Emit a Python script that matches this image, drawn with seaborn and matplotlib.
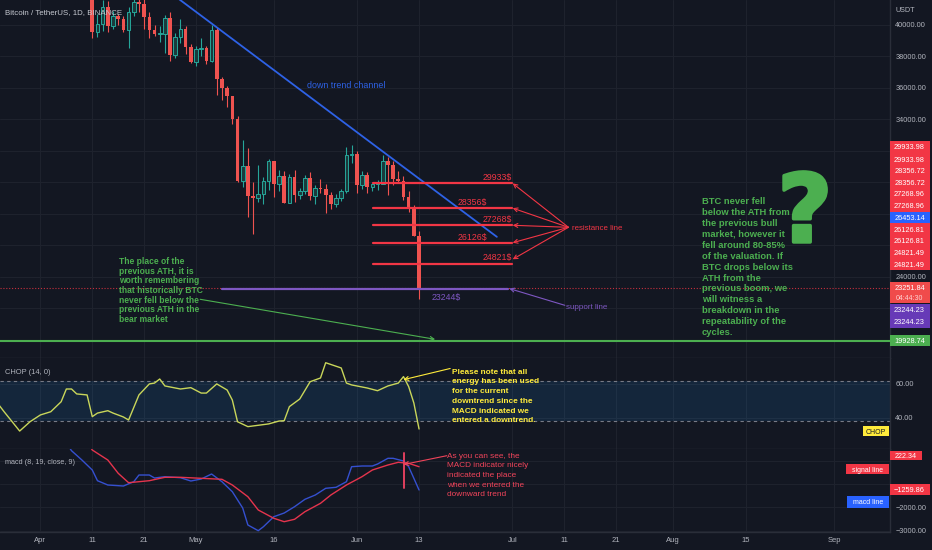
import numpy as np
import pandas as pd
import matplotlib
matplotlib.use("Agg")
import matplotlib.pyplot as plt
import matplotlib.dates as mdates
import matplotlib.patheffects as pe
from matplotlib.patches import Rectangle
from matplotlib.ticker import FuncFormatter
from matplotlib import font_manager as fm
import seaborn as sns

# ---------------- data ----------------
candle_start = "2022-04-11"
candle_open = [42158, 39530, 40074, 41147, 39942, 40551, 40378, 39678, 40801, 41493,
               41358, 40480, 39709, 39441, 39450, 40426, 38112, 39235, 39742, 38596,
               37630, 38468, 38525, 37729, 39690, 36552, 36013, 35472, 34039, 30077,
               31017, 29103, 29030, 29287, 30086, 31328, 29875, 30424, 28715, 30319,
               29201, 29445, 30293, 29110, 29655, 29543, 29202, 28620, 29020, 29445,
               31726, 31793, 29800, 30452, 29700, 29865, 29920, 31373, 31125, 30204,
               30110, 29092, 28424, 26574]
candle_high = [42414, 40699, 41561, 41500, 40870, 40709, 40595, 41116, 41760, 42199,
               42976, 40795, 39980, 39940, 40616, 40797, 39474, 40372, 39925, 38795,
               38675, 39167, 38651, 40023, 39845, 36675, 36146, 35510, 34243, 32658,
               32162, 30032, 31083, 30343, 31460, 31328, 30788, 30700, 30545, 30777,
               29660, 30487, 30670, 29835, 30223, 29872, 29397, 29250, 29550, 32222,
               32399, 31983, 30690, 30680, 29950, 30170, 31765, 31590, 31340, 30700,
               30393, 29440, 28544, 26895]
candle_low = [39200, 39254, 39588, 39551, 39766, 39992, 39546, 38536, 40571, 40820,
              39751, 39177, 39285, 38929, 38200, 37702, 37881, 38881, 38175, 37578,
              37386, 38052, 37517, 37670, 35571, 35258, 34785, 33713, 30033, 29730,
              27785, 26700, 28751, 28630, 29480, 29087, 29450, 28654, 28693, 28730,
              28947, 29255, 28866, 28642, 29294, 28019, 28282, 28450, 28810, 29300,
              31200, 29299, 29594, 29320, 29450, 29485, 29880, 29219, 29844, 29944,
              28850, 28100, 26560, 22600]
candle_close = [39530, 40074, 41147, 39942, 40551, 40378, 39678, 40801, 41493, 41358,
                40480, 39709, 39441, 39450, 40426, 38112, 39235, 39742, 38596, 37630,
                38468, 38525, 37729, 39690, 36552, 36013, 35472, 34039, 30077, 31017,
                29103, 29030, 29287, 30086, 31328, 29875, 30424, 28715, 30319, 29201,
                29445, 30293, 29110, 29655, 29543, 29202, 28620, 29020, 29445, 31726,
                31793, 29800, 30452, 29700, 29865, 29920, 31373, 31125, 30204, 30110,
                29092, 28424, 26574, 23252]

chop_dates = ["2022-03-24", "2022-03-25", "2022-03-28", "2022-03-30", "2022-04-01", "2022-04-03",
              "2022-04-05", "2022-04-06", "2022-04-07", "2022-04-08", "2022-04-10", "2022-04-11",
              "2022-04-12", "2022-04-14", "2022-04-15", "2022-04-17", "2022-04-18", "2022-04-20",
              "2022-04-22", "2022-04-23", "2022-04-24", "2022-04-25", "2022-04-28", "2022-04-30",
              "2022-05-02", "2022-05-03", "2022-05-05", "2022-05-07", "2022-05-08", "2022-05-09",
              "2022-05-11", "2022-05-15", "2022-05-17", "2022-05-18", "2022-05-19", "2022-05-21",
              "2022-05-23", "2022-05-25", "2022-05-26", "2022-05-29", "2022-05-30", "2022-05-31",
              "2022-06-03", "2022-06-05", "2022-06-07", "2022-06-09", "2022-06-10", "2022-06-11",
              "2022-06-12", "2022-06-13"]
chop_values = [47.5, 43.5, 32.1, 37.6, 41.6, 43.5, 49.4, 56.9, 56.9, 54.0, 53.4, 40.6,
               42.7, 44.1, 42.7, 40.4, 38.6, 53.4, 59.9, 60.4, 62.8, 58.7, 56.9, 57.7,
               54.5, 54.5, 59.9, 56.3, 50.4, 37.6, 34.7, 36.3, 38.0, 38.2, 46.5, 51.0,
               61.2, 63.4, 72.4, 69.3, 60.4, 59.3, 57.5, 55.9, 58.7, 60.4, 64.2, 58.3,
               48.6, 33.3]
chop_band = [38.2, 61.8]

macd_dates = ["2022-04-06", "2022-04-07", "2022-04-09", "2022-04-11", "2022-04-12", "2022-04-14",
              "2022-04-17", "2022-04-19", "2022-04-20", "2022-04-22", "2022-04-23", "2022-04-25",
              "2022-04-28", "2022-04-30", "2022-05-02", "2022-05-04", "2022-05-06", "2022-05-08",
              "2022-05-10", "2022-05-11", "2022-05-13", "2022-05-14", "2022-05-16", "2022-05-18",
              "2022-05-20", "2022-05-22", "2022-05-24", "2022-05-26", "2022-05-28", "2022-05-30",
              "2022-05-31", "2022-06-02", "2022-06-04", "2022-06-05", "2022-06-07", "2022-06-08",
              "2022-06-10", "2022-06-11", "2022-06-12", "2022-06-13"]
macd_values = [750, 419, 21, -406, -863, -1047, -1090, -906, -620, -620, -748, -692,
               -735, -876, -791, -577, -906, -1333, -2030, -2756, -3000, -2829, -2402, -2244,
               -1974, -1658, -1474, -1188, -1145, -906, -265, -235, -235, -150, 94, 94,
               -21, -265, -761, -1260]
signal_dates = ["2022-04-10", "2022-04-11", "2022-04-14", "2022-04-16", "2022-04-18", "2022-04-22",
                "2022-04-25", "2022-04-28", "2022-05-02", "2022-05-06", "2022-05-08", "2022-05-11",
                "2022-05-13", "2022-05-16", "2022-05-18", "2022-05-20", "2022-05-22", "2022-05-25",
                "2022-05-27", "2022-05-30", "2022-06-02", "2022-06-04", "2022-06-07", "2022-06-09",
                "2022-06-11", "2022-06-13"]
signal_values = [800, 449, 21, -547, -949, -863, -718, -718, -761, -803, -1047, -1547,
                 -2115, -2470, -2615, -2513, -2188, -1829, -1474, -1047, -692, -406, -192, -77,
                 -120, -265]

resistance_levels = [29933, 28356, 27268, 26126, 24821]
support_level = 23244
current_price = 23251.84
prev_ath = 19928.74

x_tick_dates = ["2022-04-01", "2022-04-11", "2022-04-21", "2022-05-01", "2022-05-16", "2022-06-01",
                "2022-06-13", "2022-07-01", "2022-07-11", "2022-07-21", "2022-08-01", "2022-08-15",
                "2022-09-01"]
x_tick_labels = ["Apr", "11", "21", "May", "16", "Jun", "13", "Jul", "11", "21", "Aug", "15", "Sep"]
price_ticks = [20000, 22000, 24000, 26000, 28000, 30000, 32000, 34000, 36000, 38000, 40000]
price_labelled = [24000, 34000, 36000, 38000, 40000]
chop_ticks = [40, 60]
macd_ticks = [-3000, -2000, -1000, 0]
macd_labelled = [-3000, -2000]

main_tag_values = ["29933.98", "29933.98", "28356.72", "28356.72", "27268.96", "27268.96",
                   "26453.14", "26126.81", "26126.81", "24821.49", "24821.49",
                   "23244.23", "23244.23", "19928.74"]

# ---------------- style ----------------
BG = "#131722"
GRID = "#1e222d"
SEP = "#2a2e39"
TXT = "#b2b5be"
UP, UP_FILL, DN = "#26a69a", "#1a3a3c", "#ef5350"
RED, BLUE, PURPLE, GREEN, YELLOW = "#f23645", "#2e62e6", "#7e57c2", "#4caf50", "#ffeb3b"

sns.set_theme(style="dark", rc={"axes.facecolor": BG, "figure.facecolor": BG})
names = {f.name for f in fm.fontManager.ttflist}
if "Liberation Sans Narrow" in names:
    FN, K = "Liberation Sans Narrow", 1.0
else:
    FN, K = "Liberation Sans", 0.84
plt.rcParams["font.family"] = [FN, "DejaVu Sans"]
plt.rcParams["axes.unicode_minus"] = True


def fs(s):
    return s * K


W, H = 932, 550
fig = plt.figure(figsize=(W / 100, H / 100), dpi=100, facecolor=BG)


def frame(x0, y0, x1, y1):
    return [x0 / W, 1 - y1 / H, (x1 - x0) / W, (y1 - y0) / H]


ax = fig.add_axes(frame(0, 0, 889.5, 358))
axc = fig.add_axes(frame(0, 358, 889.5, 449.3))
axm = fig.add_axes(frame(0, 449.3, 889.5, 531.7))

t0 = mdates.date2num(pd.Timestamp("2022-04-01"))
XMIN, XMAX = t0 - 7.79, t0 + 163.7
xt = mdates.date2num(pd.to_datetime(x_tick_dates))


def make_fmt(shown):
    return FuncFormatter(lambda v, p: f"{v:.2f}".replace("-", "\u2212")
                         if shown is None or any(abs(v - s) < 1e-6 for s in shown) else "")


for a in (ax, axc, axm):
    a.set_facecolor(BG)
    for s in ("top", "left"):
        a.spines[s].set_visible(False)
    for s in ("right", "bottom"):
        a.spines[s].set_color(SEP)
        a.spines[s].set_linewidth(1.0)
    a.yaxis.tick_right()
    a.tick_params(axis="both", length=0, colors=TXT, labelsize=fs(6.3))
    a.tick_params(axis="y", pad=4.2)
    a.grid(True, color=GRID, lw=0.8)
    a.set_axisbelow(True)
    a.set_xlim(XMIN, XMAX)
    a.set_xticks(xt)

ax.tick_params(axis="x", labelbottom=False)
axc.tick_params(axis="x", labelbottom=False)
axm.set_xticklabels(x_tick_labels)
axm.tick_params(axis="x", pad=4.0, labelsize=fs(6.6))

# ---------------- main pane ----------------
ax.set_ylim(18830, 41589)
ax.set_yticks(price_ticks)
ax.yaxis.set_major_formatter(make_fmt(price_labelled))

cx = mdates.date2num(pd.date_range(candle_start, periods=len(candle_open), freq="D"))
o, hi, lo, c = (np.array(v, float) for v in (candle_open, candle_high, candle_low, candle_close))
up = c >= o
blo = np.minimum(o, c)
bh = np.maximum(np.abs(c - o), 60)
ax.vlines(cx[up], lo[up], hi[up], color=UP, lw=0.8, zorder=2)
ax.vlines(cx[~up], lo[~up], hi[~up], color=DN, lw=0.8, zorder=2)
ax.bar(cx[up], bh[up], bottom=blo[up], width=0.7, facecolor=UP_FILL, edgecolor=UP, linewidth=0.7, zorder=3)
ax.bar(cx[~up], bh[~up], bottom=blo[~up], width=0.7, color=DN, linewidth=0, zorder=3)

# current price dotted, previous ATH line
ax.axhline(current_price, color=RED, lw=0.8, ls=(0, (1, 1.6)), alpha=0.8, zorder=2)
ax.axhline(prev_ath, color=GREEN, lw=1.5, zorder=4)

# trend line
ax.plot([t0 + 20, t0 + 88], [43303, 26533], color=BLUE, lw=1.3, zorder=4)
ax.text(t0 + 51.4, 36186, "down trend channel", color=BLUE, fontsize=fs(7.6),
        ha="left", va="center_baseline", zorder=6)

# resistance lines
lab_right = [90.92, 86.16, 90.92, 86.16, 90.92]
for lvl, xr in zip(resistance_levels, lab_right):
    ax.plot([t0 + 64.1, t0 + 90.9], [lvl, lvl], color=RED, lw=1.6, zorder=5)
    ax.annotate(f"{lvl}$", xy=(t0 + xr, lvl), xytext=(0, 4.9), textcoords="offset points",
                ha="right", va="center_baseline", color=RED, fontsize=fs(7.5), zorder=6)
arrow_targets = [29933, 28356, 27268, 26160, 25105]
for p in arrow_targets:
    ax.annotate("", xy=(t0 + 91.05, p), xytext=(t0 + 101.8, 27139),
                arrowprops=dict(arrowstyle="->", color=RED, lw=0.8, shrinkA=0, shrinkB=0,
                                mutation_scale=7), zorder=6)
ax.text(t0 + 102.4, 27139, "resistance line", color=RED, fontsize=fs(6.8),
        ha="left", va="center_baseline", zorder=6)

# support line
ax.plot([t0 + 35.0, t0 + 90.1], [support_level, support_level], color=PURPLE, lw=1.6, zorder=5)
ax.annotate(f"{support_level}$", xy=(t0 + 75.4, support_level), xytext=(0, -5.6),
            textcoords="offset points", ha="left", va="center_baseline", color=PURPLE,
            fontsize=fs(7.5), zorder=6)
ax.annotate("", xy=(t0 + 90.4, support_level), xytext=(t0 + 101.1, 22180),
            arrowprops=dict(arrowstyle="->", color=PURPLE, lw=0.8, shrinkA=0, shrinkB=0,
                            mutation_scale=7), zorder=6)
ax.text(t0 + 101.3, 22073, "support line", color=PURPLE, fontsize=fs(6.9),
        ha="left", va="center_baseline", zorder=6)


def multiline(a, x, y, lines, step, **kw):
    for i, s in enumerate(lines):
        a.annotate(s, xy=(x, y), xytext=(0, -i * step), textcoords="offset points",
                   ha="left", va="center_baseline", zorder=7, **kw)


left_note = ["The place of the", "previous ATH, it is", "worth remembering",
             "that historically BTC", "never fell below the", "previous ATH in the", "bear market"]
multiline(ax, t0 + 15.15, 25016, left_note, 6.9, color=GREEN, fontsize=fs(7.3), fontweight="bold")
ax.annotate("", xy=(t0 + 76.1, 20019), xytext=(t0 + 30.8, 22562),
            arrowprops=dict(arrowstyle="->", color=GREEN, lw=0.8, shrinkA=0, shrinkB=0,
                            mutation_scale=7), zorder=6)

right_note = ["BTC never fell", "below the ATH from", "the previous bull", "market, however it",
              "fell around 80-85%", "of the valuation. If", "BTC drops below its", "ATH from the",
              "previous boom, we", "will witness a", "breakdown in the", "repeatability of the",
              "cycles."]
multiline(ax, t0 + 127.5, 28830, right_note, 7.85, color=GREEN, fontsize=fs(8.0), fontweight="bold")
ax.text(t0 + 147.4, 26205, "?", color=GREEN, fontsize=68, fontweight="bold",
        family="DejaVu Sans", ha="center", va="baseline", zorder=6,
        path_effects=[pe.withStroke(linewidth=2.5, foreground=GREEN)])

# ---------------- CHOP pane ----------------
axc.set_ylim(21.33, 75.19)
axc.set_yticks(chop_ticks)
axc.yaxis.set_major_formatter(make_fmt(None))
axc.axhspan(chop_band[0], chop_band[1], color="#2196f3", alpha=0.12, lw=0, zorder=1)
for v in chop_band:
    axc.axhline(v, color="#787b86", lw=0.8, ls=(0, (3, 3)), zorder=2)
chop_df = pd.DataFrame({"x": mdates.date2num(pd.to_datetime(chop_dates)), "y": chop_values})
sns.lineplot(data=chop_df, x="x", y="y", ax=axc, color="#c9d65a", lw=1.0, zorder=3)

yellow_note = ["Please note that all", "energy has been used", "for the current",
               "downtrend since the", "MACD indicated we", "entered a downtrend."]
multiline(axc, t0 + 79.3, 67.4, yellow_note, 7.0, color=YELLOW, fontsize=fs(7.1), fontweight="bold")
axc.annotate("", xy=(t0 + 70.0, 62.4), xytext=(t0 + 79.0, 69.0),
             arrowprops=dict(arrowstyle="->", color=YELLOW, lw=0.8, shrinkA=0, shrinkB=0,
                             mutation_scale=7), zorder=6)

# ---------------- MACD pane ----------------
axm.set_ylim(-3043, 479)
axm.set_yticks(macd_ticks)
axm.yaxis.set_major_formatter(make_fmt(macd_labelled))
macd_df = pd.DataFrame({"x": mdates.date2num(pd.to_datetime(macd_dates)), "y": macd_values})
sig_df = pd.DataFrame({"x": mdates.date2num(pd.to_datetime(signal_dates)), "y": signal_values})
sns.lineplot(data=macd_df, x="x", y="y", ax=axm, color="#3550d0", lw=1.0, zorder=3)
sns.lineplot(data=sig_df, x="x", y="y", ax=axm, color="#e5344d", lw=1.0, zorder=3)
axm.plot([t0 + 70.1, t0 + 70.1], [320, -1175], color="#e0405e", lw=1.4, zorder=4)

red_note = ["As you can see, the", "MACD indicator nicely", "indicated the place",
            "when we entered the", "downward trend"]
multiline(axm, t0 + 78.35, 235, red_note, 7.0, color="#f0445a", fontsize=fs(7.1))
axm.annotate("", xy=(t0 + 70.0, -171), xytext=(t0 + 78.35, 205),
             arrowprops=dict(arrowstyle="->", color="#f0445a", lw=0.8, shrinkA=0, shrinkB=0,
                             mutation_scale=7), zorder=6)

for a in (ax, axc, axm):
    a.set_xlabel("")
    a.set_ylabel("")
    a.set_xlim(XMIN, XMAX)

# ---------------- pane captions ----------------
fig.text(5 / W, 1 - 11.5 / H, "Bitcoin / TetherUS, 1D, BINANCE", color="#c5c8d0",
         fontsize=fs(6.7), ha="left", va="center_baseline")
fig.text(5 / W, 1 - 371.7 / H, "CHOP (14, 0)", color=TXT, fontsize=fs(6.4),
         ha="left", va="center_baseline")
fig.text(5 / W, 1 - 461 / H, "macd (8, 19, close, 9)", color=TXT, fontsize=fs(6.2),
         ha="left", va="center_baseline")
fig.text(895 / W, 1 - 10 / H, "USDT", color=TXT, fontsize=fs(6.2), ha="left", va="center_baseline")


# ---------------- price-axis tags ----------------
def tag(y, text, color, x0=889.5, x1=929.5, h=12.0, tcolor="white", size=6.3):
    fig.add_artist(Rectangle((x0 / W, 1 - (y + h / 2) / H), (x1 - x0) / W, h / H,
                             transform=fig.transFigure, facecolor=color, edgecolor="none",
                             zorder=5))
    fig.text((x0 + x1) / 2 / W, 1 - y / H, text, ha="center", va="center_baseline",
             color=tcolor, fontsize=fs(size), zorder=6)


tag_y = [146.7, 159.3, 170.7, 182.7, 194.0, 205.7, 217.7, 229.3, 240.7, 252.7, 264.3,
         310.0, 322.0, 340.3]
tag_c = [RED] * 6 + ["#2962ff"] + [RED] * 4 + ["#673ab7", "#673ab7", GREEN]
for yv, txt, col in zip(tag_y, main_tag_values, tag_c):
    tag(yv, txt, col, h=12.0 if col != GREEN else 10.5)
fig.add_artist(Rectangle((889.5 / W, 1 - 303.3 / H), 40 / W, 21 / H, transform=fig.transFigure,
                         facecolor="#f04b4b", edgecolor="none", zorder=5))
fig.text(909.5 / W, 1 - 288 / H, f"{current_price:.2f}", ha="center", va="center_baseline",
         color="white", fontsize=fs(6.3), zorder=6)
fig.text(909.5 / W, 1 - 297.7 / H, "04:44:30", ha="center", va="center_baseline",
         color="#ffd0d0", fontsize=fs(6.0), zorder=6)

tag(431, "CHOP", YELLOW, x0=863, x1=889, h=10.5, tcolor="#131722", size=6.0)
tag(455.2, "222.34", RED, x0=889.5, x1=921.5, h=8.8, size=6.2)
tag(469, "signal line", RED, x0=846, x1=889, h=10.5, size=5.9)
tag(489.6, "\u22121259.86", RED, x0=889.5, x1=929.5, h=10.5, size=6.3)
tag(501.8, "macd line", "#2962ff", x0=847, x1=889, h=11.5, size=6.0)

fig.savefig("out.png", dpi=100, facecolor=BG)
